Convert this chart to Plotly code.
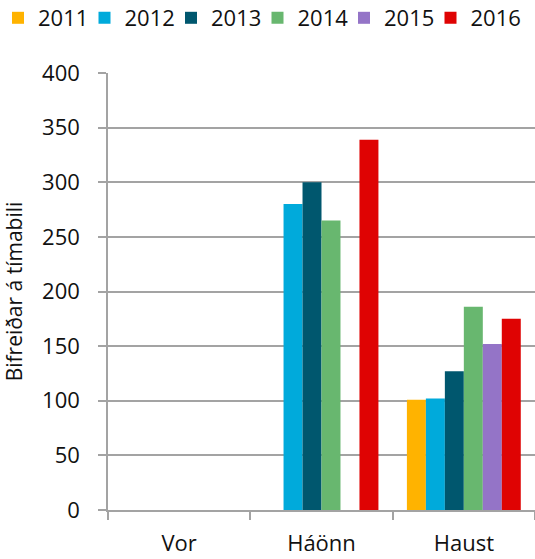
import plotly.graph_objects as go

# Seasons on the category axis
seasons = ["Vor", "Háönn", "Haust"]

# Vehicle counts per season for each year (None = no data)
years = ["2011", "2012", "2013", "2014", "2015", "2016"]
v2011 = [None, None, 101]
v2012 = [None, 280, 102]
v2013 = [None, 300, 127]
v2014 = [None, 265, 186]
v2015 = [None, None, 152]
v2016 = [None, 339, 175]
series = [v2011, v2012, v2013, v2014, v2015, v2016]

colors = ["#FFB300", "#00AADB", "#00576E", "#68B76F", "#9474C7", "#DF0303"]

FONT = "Open Sans"
GRID = "#a3a3a3"
TXT = "#111111"

W, H = 535, 559
ML, MR, MT, MB = 108, 0, 73, 49
PW, PH = W - ML - MR, H - MT - MB

# one legend per year, laid out left to right in the top margin
LEG_STEP = 86.5
LEG_START = -2
legend_ids = ["legend"] + [f"legend{i}" for i in range(2, len(years) + 1)]

fig = go.Figure()
for name, vals, col, lid in zip(years, series, colors, legend_ids):
    fig.add_trace(go.Bar(
        x=seasons, y=vals, name=name, legend=lid,
        marker=dict(color=col, line=dict(width=0)),
    ))

legend_layout = {}
for i, lid in enumerate(legend_ids):
    legend_layout[lid] = dict(
        orientation="h",
        x=(LEG_START + i * LEG_STEP - ML) / PW, xanchor="left",
        y=(PH + MT - 18) / PH, yanchor="middle",
        font=dict(size=22, family=FONT, color=TXT),
        itemwidth=30,
        bgcolor="rgba(0,0,0,0)", borderwidth=0,
    )

fig.update_layout(
    width=W, height=H,
    margin=dict(l=ML, r=MR, t=MT, b=MB, autoexpand=False),
    paper_bgcolor="white", plot_bgcolor="white",
    barmode="group", bargap=0.2, bargroupgap=0,
    font=dict(family=FONT, size=22, color=TXT),
    showlegend=True,
    **legend_layout,
    xaxis=dict(
        type="category", categoryorder="array", categoryarray=seasons,
        range=[-0.5, 2.5],
        showline=True, linecolor=GRID, linewidth=1.5,
        ticks="outside", tickson="boundaries", ticklen=8, tickcolor=GRID, tickwidth=1.5,
        showgrid=False, ticklabelstandoff=13,
        tickfont=dict(size=22, family=FONT, color=TXT),
    ),
    yaxis=dict(
        range=[0, 400], dtick=50, tick0=0,
        showline=True, linecolor=GRID, linewidth=1.5,
        ticks="outside", ticklen=8, tickcolor=GRID, tickwidth=1.5,
        showgrid=True, gridcolor=GRID, gridwidth=1.5,
        zeroline=False, ticklabelstandoff=14,
        tickfont=dict(size=22, family=FONT, color=TXT),
        title=dict(text="Bifreiðar á tímabili", standoff=16,
                   font=dict(size=21, family=FONT, color=TXT)),
    ),
)

fig.write_html("out.html")
